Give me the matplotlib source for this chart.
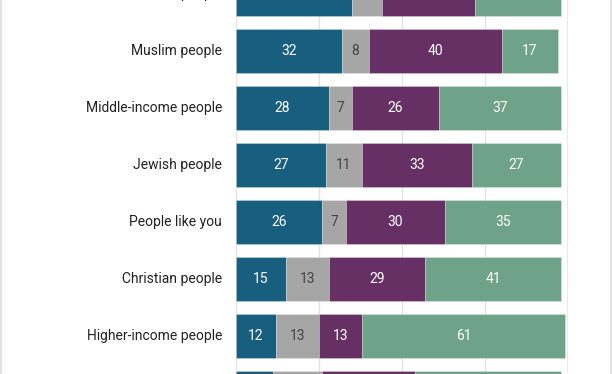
import matplotlib
matplotlib.use("Agg")
import matplotlib.pyplot as plt
from matplotlib.lines import Line2D
import numpy as np

categories = ["Lower-income people", "Muslim people", "Middle-income people", "Jewish people",
              "People like you", "Christian people", "Higher-income people", "White people"]
s1 = [35, 32, 28, 27, 26, 15, 12, 11]
s2 = [9, 8, 7, 11, 7, 13, 13, 15]
s3 = [28, 40, 26, 33, 30, 29, 13, 28]
s4 = [26, 17, 37, 27, 35, 41, 61, 44]
series = [s1, s2, s3, s4]
colors = ["#185e7e", "#a6a6a6", "#663064", "#6fa389"]
text_colors = ["white", "#444444", "white", "white"]

plt.rcParams['font.family'] = ['Roboto', 'DejaVu Sans']

W, H = 612, 374
fig = plt.figure(figsize=(W / 100, H / 100), dpi=100)
ax = fig.add_axes([236 / W, 0, 332 / W, 1])
ax.set_xlim(0, 100)
n = len(categories)
y = np.arange(n)
ax.set_ylim(380 / 57, 6 / 57)

for gx in [0, 25, 50, 75]:
    ax.axvline(gx, color="#e2e2e2", lw=1.0, zorder=0)
ax.axvline(100, color="#e6e6e6", lw=2.0, zorder=0)

left = np.zeros(n)
for vals, c, tc in zip(series, colors, text_colors):
    vals = np.array(vals, dtype=float)
    ax.barh(y, vals, left=left, height=44 / 57, color=c, edgecolor=(1, 1, 1, 0.35),
            linewidth=0.5, zorder=2)
    for yi, (l, v) in enumerate(zip(left, vals)):
        ax.text(l + v / 2, yi, f"{int(v)}", ha="center", va="center", color=tc,
                fontsize=10, zorder=3)
    left += vals

for yi, cat in enumerate(categories):
    ax.text(-4.2, yi, cat, ha="right", va="center", color="#222222", fontsize=10)

ax.set_axis_off()

fig.add_artist(Line2D([0.5 / W, 0.5 / W], [0, 1], transform=fig.transFigure, color="#dddddd", lw=1.2))
fig.add_artist(Line2D([1 - 0.8 / W, 1 - 0.8 / W], [0, 1], transform=fig.transFigure, color="#dddddd", lw=1.2))

fig.savefig("out.png", dpi=100)
